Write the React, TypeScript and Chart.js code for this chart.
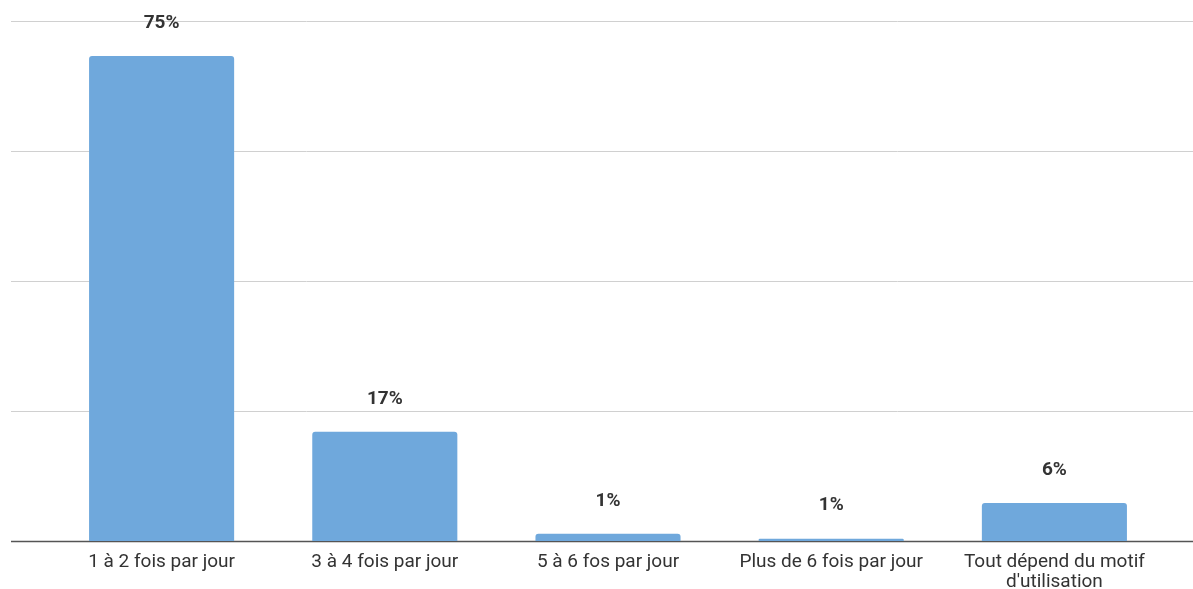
import React, { useEffect, useRef } from "react";
import { Chart, registerables } from "chart.js";

Chart.register(...registerables);

const categories: (string | string[])[] = [
  "1 à 2 fois par jour",
  "3 à 4 fois par jour",
  "5 à 6 fos par jour",
  "Plus de 6 fois par jour",
  ["Tout dépend du motif", "d'utilisation"],
];
const values: number[] = [74.6, 16.8, 1.1, 0.35, 5.85];
const valueLabels: string[] = ["75%", "17%", "1%", "1%", "6%"];
const yMax = 80;
const yStep = 20;

const W = 1193;
const H = 589;

const gridPlugin = {
  id: "fullGrid",
  beforeDatasetsDraw(chart: any) {
    const ctx = chart.ctx;
    const y = chart.scales.y;
    ctx.save();
    y.ticks.forEach((t: any) => {
      const py = Math.round(y.getPixelForValue(t.value)) + 0.5;
      ctx.beginPath();
      if (t.value === 0) {
        ctx.strokeStyle = "#555555";
        ctx.lineWidth = 1.6;
      } else {
        ctx.strokeStyle = "#d0d0d0";
        ctx.lineWidth = 1;
      }
      ctx.moveTo(11, py);
      ctx.lineTo(chart.width, py);
      ctx.stroke();
    });
    ctx.restore();
  },
};

const labelPlugin = {
  id: "valueLabels",
  afterDatasetsDraw(chart: any) {
    const ctx = chart.ctx;
    const meta = chart.getDatasetMeta(0);
    ctx.save();
    ctx.fillStyle = "#333333";
    ctx.font = "bold 19px Roboto";
    ctx.textAlign = "center";
    ctx.textBaseline = "middle";
    meta.data.forEach((bar: any, i: number) => {
      ctx.fillText(valueLabels[i], bar.x, bar.y - 33);
    });
    ctx.restore();
  },
};

export default function App() {
  const ref = useRef<HTMLCanvasElement | null>(null);
  useEffect(() => {
    document.body.style.margin = "0";
    const canvas = ref.current;
    if (!canvas) return;
    const chart = new Chart(canvas, {
      type: "bar",
      data: {
        labels: categories,
        datasets: [
          {
            data: values,
            backgroundColor: "#6fa8dc",
            borderRadius: 3,
            barPercentage: 0.65,
            categoryPercentage: 1,
          },
        ],
      },
      options: {
        responsive: false,
        animation: false,
        maintainAspectRatio: false,
        layout: { padding: { left: 50, right: 27, top: 21, bottom: 0 } },
        plugins: {
          legend: { display: false },
          tooltip: { enabled: false },
        },
        scales: {
          x: {
            grid: { display: false, drawTicks: false },
            border: { display: false },
            ticks: {
              color: "#333333",
              font: { family: "Roboto", size: 19, lineHeight: 1.05 },
              padding: 11,
              maxRotation: 0,
              autoSkip: false,
            },
            afterFit: (s: any) => {
              s.height = 48;
            },
          },
          y: {
            min: 0,
            max: yMax,
            ticks: { stepSize: yStep, display: false },
            grid: { display: false, drawTicks: false },
            border: { display: false },
            afterFit: (s: any) => {
              s.width = 0;
            },
          },
        },
      },
      plugins: [gridPlugin, labelPlugin],
    });
    return () => chart.destroy();
  }, []);
  return (
    <div style={{ width: W, height: H, background: "#ffffff" }}>
      <canvas ref={ref} width={W} height={H} style={{ display: "block" }} />
    </div>
  );
}
